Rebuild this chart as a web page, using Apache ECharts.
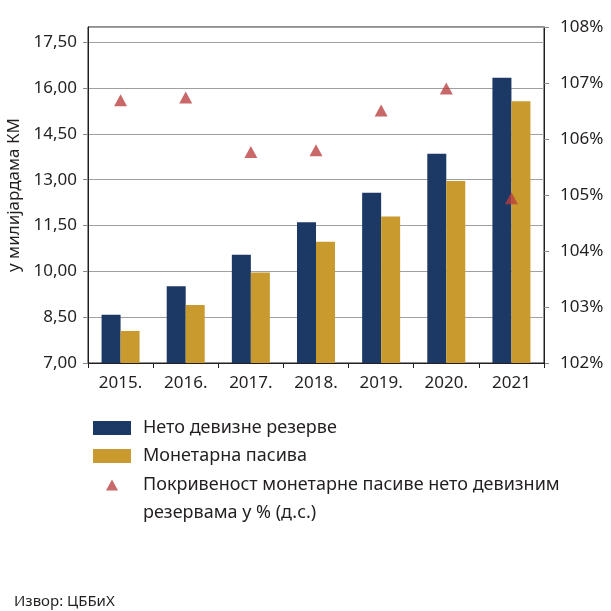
<!DOCTYPE html>
<html><head><meta charset="utf-8">
<script src="https://cdn.jsdelivr.net/npm/echarts@6/dist/echarts.min.js"></script>
<style>html,body{margin:0;padding:0;background:#fff}#c{width:611px;height:611px}</style>
</head><body><div id="c"></div>
<script>
const categories = ['2015.', '2016.', '2017.', '2018.', '2019.', '2020.', '2021'];
const netReserves = [8.58, 9.51, 10.54, 11.61, 12.57, 13.85, 16.34];
const monetaryLiabilities = [8.05, 8.90, 9.96, 10.97, 11.80, 12.96, 15.57];
const coverage = [106.69, 106.74, 105.77, 105.80, 106.51, 106.90, 104.94];
const leftTicks = ['7,00', '8,50', '10,00', '11,50', '13,00', '14,50', '16,00', '17,50'];
const rightTicks = ['102%', '103%', '104%', '105%', '106%', '107%', '108%'];

const nameA = 'Нето девизне резерве';
const nameB = 'Монетарна пасива';
const nameC = 'Покривеност монетарне пасиве нето девизним резервама у % (д.с.)';
const nameCLine1 = 'Покривеност монетарне пасиве нето девизним';
const nameCLine2 = 'резервама у % (д.с.)';

const FONT = 'Noto Sans';
const TXT = '#231f20';
const chart = echarts.init(document.getElementById('c'), null, {renderer: 'canvas'});
chart.setOption({
  animation: false,
  textStyle: {fontFamily: FONT},
  grid: {left: 88, right: 67, top: 27, bottom: 248, show: true, borderColor: '#231f20', borderWidth: 1,
         containLabel: false, outerBoundsMode: 'none'},
  xAxis: {
    type: 'category', data: categories,
    axisLine: {lineStyle: {color: '#231f20', width: 1}},
    axisTick: {show: true, length: 5, alignWithLabel: false, lineStyle: {color: '#231f20'}},
    axisLabel: {color: TXT, fontSize: 17, fontFamily: FONT, margin: 12}
  },
  yAxis: [{
    type: 'value', min: 7, max: 18, interval: 1.5,
    name: 'у милијардама КМ', nameLocation: 'middle', nameGap: 57, nameRotate: 90,
    nameTextStyle: {color: TXT, fontSize: 17, fontFamily: FONT},
    axisLine: {show: true, lineStyle: {color: '#231f20'}},
    axisTick: {show: true, length: 5, lineStyle: {color: '#888'}},
    axisLabel: {color: TXT, fontSize: 17, fontFamily: FONT, margin: 11, showMaxLabel: false,
      formatter: v => { const i = Math.round((v - 7) / 1.5); return (Math.abs(v - (7 + 1.5 * i)) < 1e-6 && leftTicks[i]) ? leftTicks[i] : ''; }},
    splitLine: {show: true, lineStyle: {color: '#a0a0a0', width: 1}}
  }, {
    type: 'value', min: 102, max: 108, interval: 1, position: 'right',
    axisLine: {show: true, lineStyle: {color: '#231f20'}},
    axisTick: {show: true, length: 5, lineStyle: {color: '#888'}},
    axisLabel: {color: TXT, fontSize: 17, fontFamily: FONT, margin: 16,
      formatter: v => rightTicks[Math.round(v - 102)] || ''},
    splitLine: {show: false}
  }],
  legend: [{
    orient: 'vertical', left: 93, top: 418, padding: 0, itemWidth: 38, itemHeight: 14, itemGap: 8,
    icon: 'rect', selectedMode: false,
    textStyle: {color: TXT, fontSize: 18, fontFamily: FONT, lineHeight: 20, padding: [0, 0, 0, 7]},
    data: [nameA, nameB]
  }, {
    orient: 'vertical', left: 106, top: 475, padding: 0, itemWidth: 12, itemHeight: 11,
    icon: 'triangle', selectedMode: false,
    textStyle: {color: TXT, fontSize: 18, fontFamily: FONT, lineHeight: 20, padding: [0, 0, 0, 20]},
    formatter: () => nameCLine1,
    data: [nameC]
  }],
  graphic: [{
    type: 'text', x: 143, y: 513,
    style: {text: nameCLine2, fill: TXT, font: '18px "Noto Sans"', verticalAlign: 'middle'}
  }, {
    type: 'text', x: 14, y: 602,
    style: {text: 'Извор: ЦББиХ', fill: TXT, font: '15px "Noto Sans"', verticalAlign: 'middle'}
  }],
  series: [{
    name: nameA, type: 'bar', data: netReserves, barWidth: 19, barGap: '0%',
    itemStyle: {color: '#1c3864'}
  }, {
    name: nameB, type: 'bar', data: monetaryLiabilities, barWidth: 19,
    itemStyle: {color: '#c99a2e'}
  }, {
    name: nameC, type: 'scatter', yAxisIndex: 1, data: coverage,
    symbol: 'triangle', symbolSize: [13, 12],
    itemStyle: {color: '#ba3d3d', opacity: 0.78}, z: 5
  }]
});
</script></body></html>
